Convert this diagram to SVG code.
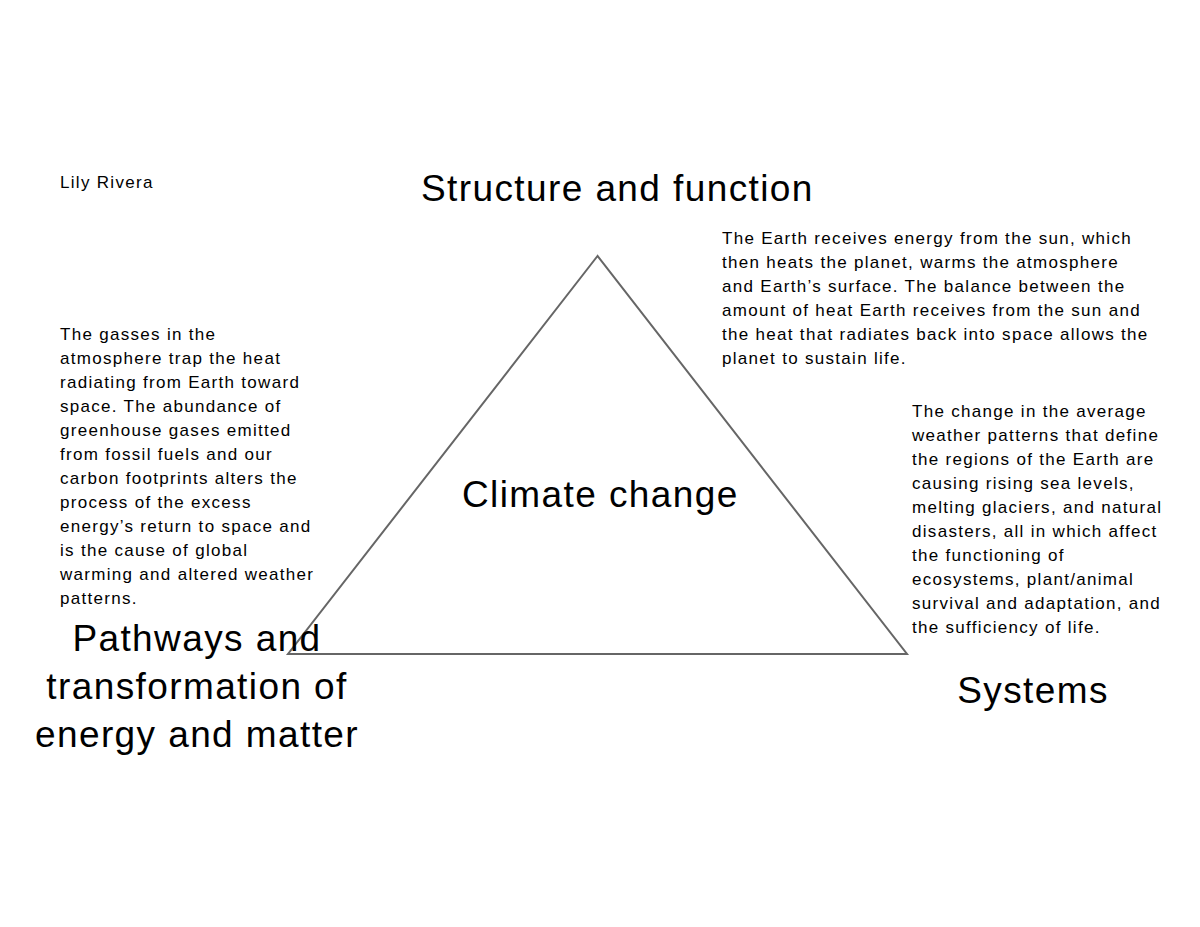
<svg xmlns="http://www.w3.org/2000/svg" width="1200" height="927" viewBox="0 0 1200 927">
<style>
.s{font-family:"Liberation Sans",Arial,sans-serif;font-size:17px;letter-spacing:1.3px;fill:#000}
.b{font-family:"Liberation Sans",Arial,sans-serif;font-size:37px;letter-spacing:1.4px;fill:#000}
.c{text-anchor:middle}
.tri{fill:none;stroke:#666;stroke-width:2;stroke-linejoin:miter}
</style>
<rect width="1200" height="927" fill="#fff"/>
<g id="connectors">
<polygon class="tri" points="597.5,256 288,654 907,654"/>
</g>
<g id="author"><text class="s" x="60" y="188">Lily Rivera</text></g>
<g id="structure-function"><text class="b" x="421" y="201">Structure and function</text></g>
<g id="climate-change"><text class="b" x="462" y="507">Climate change</text></g>
<g id="pathways">
<text class="b c" x="197" y="651">Pathways and</text>
<text class="b c" x="197" y="699">transformation of</text>
<text class="b c" x="197" y="747">energy and matter</text>
</g>
<g id="systems"><text class="b c" x="1033" y="703">Systems</text></g>
<g id="note-structure">
<text class="s" x="722" y="244">The Earth receives energy from the sun, which</text>
<text class="s" x="722" y="268">then heats the planet, warms the atmosphere</text>
<text class="s" x="722" y="292">and Earth’s surface. The balance between the</text>
<text class="s" x="722" y="316">amount of heat Earth receives from the sun and</text>
<text class="s" x="722" y="340">the heat that radiates back into space allows the</text>
<text class="s" x="722" y="364">planet to sustain life.</text>
</g>
<g id="note-pathways">
<text class="s" x="60" y="340">The gasses in the</text>
<text class="s" x="60" y="364">atmosphere trap the heat</text>
<text class="s" x="60" y="388">radiating from Earth toward</text>
<text class="s" x="60" y="412">space. The abundance of</text>
<text class="s" x="60" y="436">greenhouse gases emitted</text>
<text class="s" x="60" y="460">from fossil fuels and our</text>
<text class="s" x="60" y="484">carbon footprints alters the</text>
<text class="s" x="60" y="508">process of the excess</text>
<text class="s" x="60" y="532">energy’s return to space and</text>
<text class="s" x="60" y="556">is the cause of global</text>
<text class="s" x="60" y="580">warming and altered weather</text>
<text class="s" x="60" y="604">patterns.</text>
</g>
<g id="note-systems">
<text class="s" x="912" y="417">The change in the average</text>
<text class="s" x="912" y="441">weather patterns that define</text>
<text class="s" x="912" y="465">the regions of the Earth are</text>
<text class="s" x="912" y="489">causing rising sea levels,</text>
<text class="s" x="912" y="513">melting glaciers, and natural</text>
<text class="s" x="912" y="537">disasters, all in which affect</text>
<text class="s" x="912" y="561">the functioning of</text>
<text class="s" x="912" y="585">ecosystems, plant/animal</text>
<text class="s" x="912" y="609">survival and adaptation, and</text>
<text class="s" x="912" y="633">the sufficiency of life.</text>
</g>
</svg>
